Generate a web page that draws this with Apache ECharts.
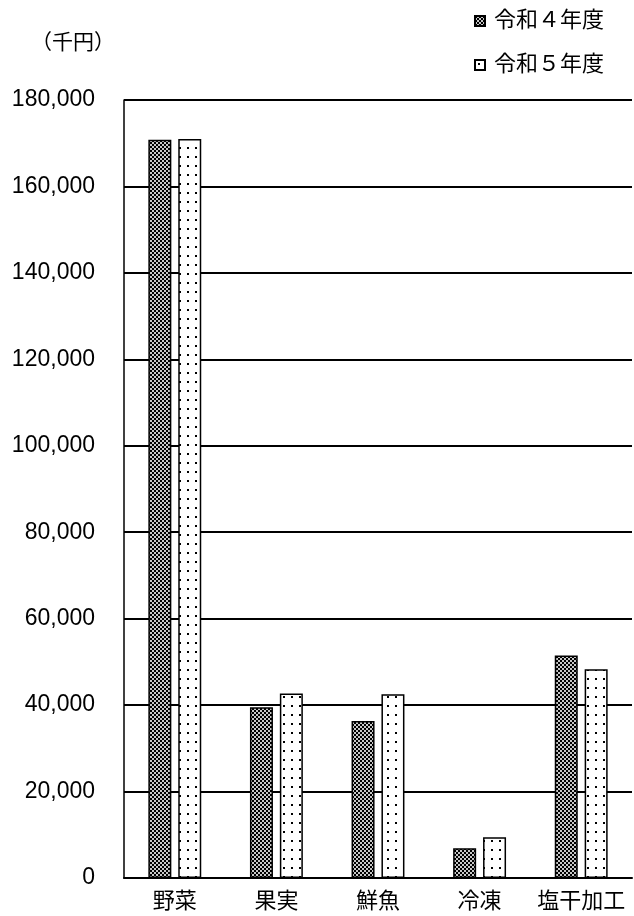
<!DOCTYPE html>
<html><head><meta charset="utf-8">
<script src="https://cdn.jsdelivr.net/npm/echarts@6/dist/echarts.min.js"></script>
<style>html,body{margin:0;padding:0;background:#fff}#c{width:634px;height:916px}</style>
</head><body><div id="c"></div>
<script>
const categories = ['野菜', '果実', '鮮魚', '冷凍', '塩干加工'];
const seriesNames = ['令和４年度', '令和５年度'];
const valuesR4 = [170800, 39500, 36300, 6900, 51500];
const valuesR5 = [171000, 42700, 42500, 9400, 48300];
const unitLabel = '（千円）';

const FONT = '"Liberation Sans", "Noto Sans CJK JP", sans-serif';

function checkerPattern() {
  const c = document.createElement('canvas');
  c.width = 4; c.height = 4;
  const g = c.getContext('2d');
  g.fillStyle = '#c8c8c8'; g.fillRect(0, 0, 4, 4);
  g.fillStyle = '#000';
  g.fillRect(0, 0, 2, 2); g.fillRect(2, 2, 2, 2);
  return c;
}
function dotPattern() {
  const c = document.createElement('canvas');
  c.width = 8; c.height = 9;
  const g = c.getContext('2d');
  g.fillStyle = '#fff'; g.fillRect(0, 0, 8, 9);
  g.fillStyle = '#000';
  g.fillRect(3, 3, 2, 2);
  return c;
}

const chart = echarts.init(document.getElementById('c'));
chart.setOption({
  animation: false,
  backgroundColor: '#fff',
  textStyle: { fontFamily: FONT, color: '#000' },
  grid: { left: 124, right: 2, top: 100, bottom: 38, containLabel: false },
  legend: {
    orient: 'vertical', right: 25, top: 5, itemGap: 22,
    itemWidth: 10, itemHeight: 10, icon: 'rect',
    textStyle: { fontSize: 22, color: '#000', fontFamily: FONT, padding: [0, 0, 0, 4] },
    data: seriesNames
  },
  graphic: [{
    type: 'text', left: 31, top: 33,
    style: { text: unitLabel, fontSize: 21, fill: '#000', fontFamily: FONT }
  }],
  xAxis: {
    type: 'category', data: categories,
    axisLine: { lineStyle: { color: '#000', width: 2 } },
    axisTick: { show: false },
    axisLabel: { interval: 0, fontSize: 22, color: '#000', margin: 13, fontFamily: FONT }
  },
  yAxis: {
    type: 'value', min: 0, max: 180000, interval: 20000,
    axisLine: { show: true, lineStyle: { color: '#000', width: 1.5 } },
    axisTick: { show: false },
    splitLine: { lineStyle: { color: '#000', width: 2 } },
    axisLabel: {
      fontSize: 23, color: '#000', margin: 29, fontFamily: FONT,
      formatter: v => String(v).replace(/\B(?=(\d{3})+(?!\d))/g, ',')
    }
  },
  series: [
    {
      name: seriesNames[0], type: 'bar', data: valuesR4,
      barWidth: 23, barGap: '30%',
      itemStyle: { color: { image: checkerPattern(), repeat: 'repeat' }, borderColor: '#000', borderWidth: 1.5 }
    },
    {
      name: seriesNames[1], type: 'bar', data: valuesR5,
      barWidth: 23, barGap: '30%',
      itemStyle: { color: { image: dotPattern(), repeat: 'repeat' }, borderColor: '#000', borderWidth: 1.5 }
    }
  ]
});
</script>
</body></html>
